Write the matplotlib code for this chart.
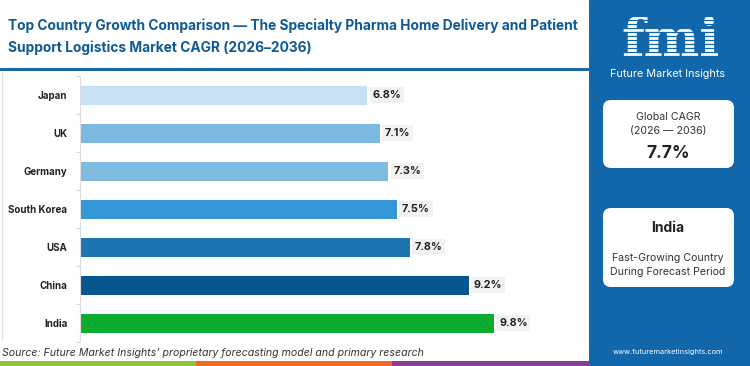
import matplotlib.pyplot as plt
from matplotlib.patches import Rectangle, FancyBboxPatch

countries = ["Japan", "UK", "Germany", "South Korea", "USA", "China", "India"]
cagr = [6.8, 7.1, 7.3, 7.5, 7.8, 9.2, 9.8]
bar_colors = ["#c6e1f3", "#7db8e1", "#7fbbe0", "#3497d7", "#1c74b0", "#07568f", "#0bab30"]

title = ("Top Country Growth Comparison \u2014 The Specialty Pharma Home Delivery and Patient\n"
         "Support Logistics Market CAGR (2026\u20132036)")
source = "Source: Future Market Insights\u2019 proprietary forecasting model and primary research"
global_cagr = "7.7%"
top_country = "India"

plt.rcParams["font.family"] = ["Inter", "DejaVu Sans"]

W, H = 750, 366
PANEL = "#1267ab"
fig = plt.figure(figsize=(W / 100, H / 100), dpi=100)

# decoration layer in pixel coordinates
deco = fig.add_axes([0, 0, 1, 1], zorder=0)
deco.set_xlim(0, W)
deco.set_ylim(H, 0)
deco.axis("off")

# header and frame
deco.add_patch(Rectangle((0, 68), 589, 2.5, color="#1a6aa8", lw=0))
deco.plot([2, 2], [72, 340], color="#e2e2e2", lw=1)
deco.text(8, 37, title, fontsize=9.9, fontweight="bold", color="#0f5a94",
          va="center", ha="left", linespacing=1.65)

# bottom stripe
deco.add_patch(Rectangle((0, 361), 196, 5, color="#8cc540", lw=0))
deco.add_patch(Rectangle((196, 361), 196, 5, color="#f06a2b", lw=0))
deco.add_patch(Rectangle((392, 361), 197, 5, color="#8a3a9a", lw=0))
deco.text(2, 353, source, fontsize=7.6, style="italic", color="#333333", va="center")

# right panel with striped logo
deco.add_patch(Rectangle((589, 0), W - 589, H, color=PANEL, lw=0))
deco.text(671, 56, "fmi", fontsize=38, fontweight="bold", family="DejaVu Serif",
          color="white", ha="center", va="baseline", zorder=3)
for yy in range(12, 58, 4):
    deco.plot([606, 740], [yy, yy], color=PANEL, lw=0.9, zorder=5)
deco.text(668, 74, "Future Market Insights", fontsize=7.8, color="white",
          ha="center", va="center")

card_kw = dict(boxstyle="round,pad=0,rounding_size=8", fc="white", ec="none")
deco.add_patch(FancyBboxPatch((603, 100), 131, 68, **card_kw))
deco.add_patch(FancyBboxPatch((603, 208), 131, 79, **card_kw))
deco.text(668, 117, "Global CAGR", fontsize=7.6, color="#333333", ha="center", va="center")
deco.text(668, 131, "(2026 \u2014 2036)", fontsize=7.6, color="#333333", ha="center", va="center")
deco.text(668, 154, global_cagr, fontsize=12.5, fontweight="bold", color="#222222",
          ha="center", va="center")
deco.text(668, 228, top_country, fontsize=10, fontweight="bold", color="#222222",
          ha="center", va="center")
deco.text(668, 258, "Fast-Growing Country", fontsize=7.6, color="#333333", ha="center", va="center")
deco.text(668, 272, "During Forecast Period", fontsize=7.6, color="#333333", ha="center", va="center")
deco.text(668, 352, "www.futuremarketinsights.com", fontsize=5.3, color="white",
          ha="center", va="center")

# chart
ax = fig.add_axes([80 / W, 1 - 342 / H, 507 / W, 266 / H], zorder=1)
ax.patch.set_alpha(0)
y = list(range(len(countries)))
ax.barh(y, cagr, height=0.5, color=bar_colors)
for yi, v in zip(y, cagr):
    ax.text(v + 0.12, yi, f"{v}%", va="center", ha="left", fontsize=7.8,
            fontweight="bold", color="#222222",
            bbox=dict(boxstyle="square,pad=0.25", fc="#f2f2f2", ec="none"))

ax.set_xlim(0, 12)
ax.set_ylim(len(countries) - 0.5, -0.5)
ax.set_yticks(y)
ax.set_yticklabels(countries, fontsize=7.0, fontweight="bold", color="#222222")
ax.set_yticks([i - 0.5 for i in range(len(countries) + 1)], minor=True)
ax.tick_params(axis="y", which="major", length=0, pad=9)
ax.tick_params(axis="y", which="minor", length=3, color="#d0d0d0")
ax.set_xticks([])
for s in ["top", "right", "bottom"]:
    ax.spines[s].set_visible(False)
ax.spines["left"].set_color("#dddddd")

fig.savefig("out.png", dpi=100)
